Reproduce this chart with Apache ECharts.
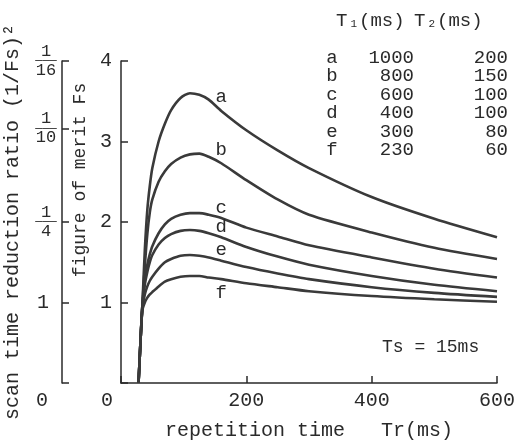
<!DOCTYPE html>
<html>
<head>
<meta charset="utf-8">
<script src="https://cdn.jsdelivr.net/npm/echarts@6/dist/echarts.min.js"></script>
<style>
	html, body { margin: 0; padding: 0; background: #fff; }
	#chart { width: 517px; height: 448px; }
</style>
</head>
<body>
<div id="chart"></div>
<script>
	// repetition time Tr (ms) and figure of merit Fs for each curve
	const trValues = [28, 31, 34, 38, 42, 46, 50, 60, 70, 80, 95, 110, 125, 140, 160, 200, 250, 300, 400, 500, 600];
	const fsA = [0, 0.5, 0.95, 1.65, 2.15, 2.45, 2.67, 3.0, 3.22, 3.39, 3.54, 3.6, 3.58, 3.52, 3.38, 3.14, 2.89, 2.67, 2.31, 2.04, 1.81];
	const fsB = [0, 0.5, 0.95, 1.45, 1.85, 2.12, 2.28, 2.5, 2.63, 2.72, 2.8, 2.84, 2.85, 2.81, 2.73, 2.52, 2.28, 2.09, 1.87, 1.68, 1.54];
	const fsC = [0, 0.5, 0.95, 1.28, 1.47, 1.6, 1.7, 1.86, 1.97, 2.04, 2.09, 2.11, 2.11, 2.09, 2.05, 1.93, 1.82, 1.71, 1.56, 1.42, 1.31];
	const fsD = [0, 0.5, 0.95, 1.22, 1.38, 1.5, 1.59, 1.72, 1.8, 1.85, 1.89, 1.9, 1.89, 1.86, 1.81, 1.69, 1.57, 1.47, 1.33, 1.22, 1.14];
	const fsE = [0, 0.5, 0.92, 1.1, 1.2, 1.27, 1.32, 1.42, 1.5, 1.54, 1.58, 1.59, 1.58, 1.56, 1.52, 1.44, 1.36, 1.29, 1.19, 1.12, 1.07];
	const fsF = [0, 0.5, 0.9, 1.0, 1.06, 1.1, 1.13, 1.2, 1.26, 1.29, 1.32, 1.33, 1.33, 1.31, 1.29, 1.24, 1.19, 1.14, 1.08, 1.04, 1.01];

	const curveNames = ["a", "b", "c", "d", "e", "f"];
	const t1Values = [1000, 800, 600, 400, 300, 230];
	const t2Values = [200, 150, 100, 100, 80, 60];
	const labelAtTr = 160;

	// scan time reduction ratio ticks (1/Fs)^2
	const ratioValues = [1, 1 / 4, 1 / 10, 1 / 16];
	const ratioLabels = ["1", "1/4", "1/10", "1/16"];

	const fsSeries = [fsA, fsB, fsC, fsD, fsE, fsF];
	const font = "Liberation Mono";
	const ink = "#2a2a2a";

	const ratioPos = [0].concat(ratioValues.map(r => 1 / Math.sqrt(r)));

	const ratioFormatter = value => {
		if (value < 0.01) return "{zero|0}";
		for (let i = 0; i < ratioValues.length; i++) {
			if (Math.abs(value - 1 / Math.sqrt(ratioValues[i])) < 0.01) {
				const parts = ratioLabels[i].split("/");
				if (parts.length === 1) return "{one|" + parts[0] + "}";
				return "{n|" + parts[0] + "}\n{bar|───}\n{d|" + parts[1] + "}";
			}
		}
		return "";
	};

	const chart = echarts.init(document.getElementById("chart"));

	const option = {
		animation: false,
		backgroundColor: "#fff",
		grid: { left: 121, right: 20, top: 61, bottom: 65, outerBoundsMode: "none" },
		xAxis: {
			type: "value",
			min: 0,
			max: 600,
			interval: 200,
			name: "repetition time   Tr(ms)",
			nameLocation: "middle",
			nameGap: 38,
			nameTextStyle: { fontFamily: font, fontSize: 20, color: ink },
			axisLine: { lineStyle: { color: ink, width: 1.5 } },
			axisTick: { inside: true, length: 7, lineStyle: { color: ink, width: 1.5 } },
			splitLine: { show: false },
			axisLabel: {
				fontFamily: font,
				fontSize: 20,
				color: ink,
				margin: 8,
				formatter: v => (v === 0 ? "{zero|0}" : String(v)),
				rich: { zero: { fontFamily: font, fontSize: 20, color: ink, padding: [0, 28, 0, 0] } }
			}
		},
		yAxis: [
			{
				type: "value",
				min: 0,
				max: 4,
				interval: 1,
				name: "figure of merit Fs",
				nameLocation: "middle",
				nameGap: 26,
				nameTextStyle: { fontFamily: font, fontSize: 18, color: ink, padding: [0, 0, 0, 84] },
				axisLine: { show: true, lineStyle: { color: ink, width: 1.5 } },
				axisTick: { show: true, inside: true, length: 7, lineStyle: { color: ink, width: 1.5 } },
				splitLine: { show: false },
				axisLabel: {
					fontFamily: font,
					fontSize: 20,
					color: ink,
					margin: 9,
					formatter: v => (v === 0 ? "" : String(v))
				}
			},
			{
				type: "value",
				position: "left",
				offset: 59,
				min: 0,
				max: 4,
				name: "scan time reduction ratio (1/Fs)²",
				nameLocation: "middle",
				nameGap: 36,
				nameTextStyle: { fontFamily: font, fontSize: 20, color: ink },
				axisLine: { show: true, lineStyle: { color: ink, width: 1.5 } },
				axisTick: { show: true, inside: true, length: 7, customValues: ratioPos, lineStyle: { color: ink, width: 1.5 } },
				splitLine: { show: false },
				axisLabel: {
					customValues: ratioPos,
					margin: 4,
					formatter: ratioFormatter,
					rich: {
						zero: { fontFamily: font, fontSize: 20, color: ink, padding: [36, 10, 0, 0] },
						one: { fontFamily: font, fontSize: 20, color: ink, padding: [0, 9, 0, 0] },
						n: { fontFamily: font, fontSize: 17, color: ink, width: 24, align: "center", lineHeight: 15 },
						bar: { fontFamily: font, fontSize: 12, color: ink, width: 24, align: "center", lineHeight: 4 },
						d: { fontFamily: font, fontSize: 17, color: ink, width: 24, align: "center", lineHeight: 15 }
					}
				}
			}
		],
		series: fsSeries.map((vals, i) => ({
			type: "line",
			name: curveNames[i],
			yAxisIndex: 0,
			smooth: 0.25,
			symbol: "none",
			lineStyle: { color: "#3a3a3a", width: 2.6 },
			data: trValues.map((t, k) => {
				const item = { value: [t, vals[k]] };
				if (t === labelAtTr) {
					item.symbol = "circle";
					item.symbolSize = 0;
					item.label = {
						show: true,
						formatter: curveNames[i],
						position: i === 5 ? "bottom" : "top",
						distance: i === 5 ? 4 : (i >= 2 ? 1 : 4),
						fontFamily: font,
						fontSize: 19,
						color: ink
					};
				}
				return item;
			})
		})),
		graphic: [
			{
				type: "text",
				left: 336,
				top: 11,
				style: {
					text: "{t|T}{s|1}{t|(ms)}",
					rich: {
						t: { fontFamily: font, fontSize: 19, fill: ink },
						s: { fontFamily: font, fontSize: 11, fill: ink, verticalAlign: "bottom", padding: [6, 2, 0, 3] }
					}
				}
			},
			{
				type: "text",
				left: 414,
				top: 11,
				style: {
					text: "{t|T}{s|2}{t|(ms)}",
					rich: {
						t: { fontFamily: font, fontSize: 19, fill: ink },
						s: { fontFamily: font, fontSize: 11, fill: ink, verticalAlign: "bottom", padding: [6, 2, 0, 3] }
					}
				}
			},
			...curveNames.map((name, i) => ({
				type: "text",
				x: 332,
				y: 58 + i * 18.4,
				style: { text: name, fontFamily: font, fontSize: 19, fill: ink, align: "center", verticalAlign: "middle" }
			})),
			...t1Values.map((v, i) => ({
				type: "text",
				x: 414,
				y: 58 + i * 18.4,
				style: { text: String(v), fontFamily: font, fontSize: 19, fill: ink, align: "right", verticalAlign: "middle" }
			})),
			...t2Values.map((v, i) => ({
				type: "text",
				x: 508,
				y: 58 + i * 18.4,
				style: { text: String(v), fontFamily: font, fontSize: 19, fill: ink, align: "right", verticalAlign: "middle" }
			})),
			{
				type: "text",
				x: 382,
				y: 347,
				style: { text: "Ts = 15ms", fontFamily: font, fontSize: 18, fill: ink, verticalAlign: "middle" }
			}
		]
	};

	chart.setOption(option);
</script>
</body>
</html>
